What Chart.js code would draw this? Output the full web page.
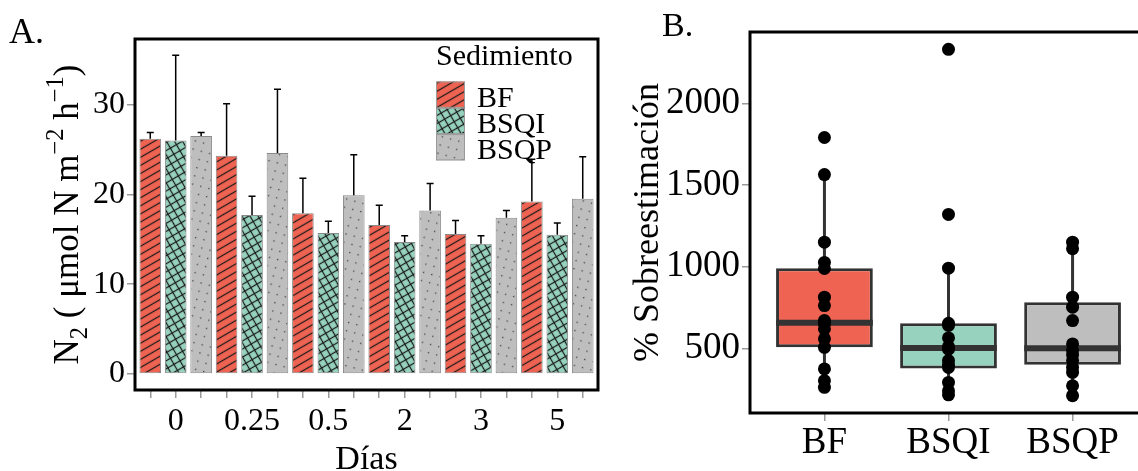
<!DOCTYPE html>
<html>
<head>
<meta charset="utf-8">
<script src="https://cdn.jsdelivr.net/npm/chart.js@4.4.1/dist/chart.umd.min.js"></script>
<style>
  html, body { margin: 0; padding: 0; background: #fff; overflow: hidden; }
  #wrap { position: relative; width: 1138px; height: 471px; overflow: hidden; background: #fff; }
  #chartA { position: absolute; left: 0; top: 0; }
  #chartB { position: absolute; left: 605px; top: 0; }
</style>
</head>
<body>
<div id="wrap">
  <canvas id="chartA" width="605" height="471"></canvas>
  <canvas id="chartB" width="560" height="471"></canvas>
</div>
<script>
// Panel A: N2 flux per day and sediment (mean and upper sd)
const dias = ["0", "0.25", "0.5", "2", "3", "5"];
const sedimentos = ["BF", "BSQI", "BSQP"];
const n2BF = [26.2, 24.3, 17.9, 16.6, 15.6, 19.2];
const n2BSQI = [26.0, 17.7, 15.7, 14.7, 14.5, 15.5];
const n2BSQP = [26.5, 24.6, 19.9, 18.2, 17.4, 19.5];
const sdBF = [0.7, 5.8, 3.9, 2.2, 1.5, 4.7];
const sdBSQI = [9.5, 2.1, 1.3, 0.7, 0.9, 1.3];
const sdBSQP = [0.4, 7.1, 4.5, 3.0, 0.8, 4.7];
const yTicksA = [0, 10, 20, 30];

// Panel B: % overestimation boxplots
const boxCats = ["BF", "BSQI", "BSQP"];
const boxQ1 = [506, 377, 400];
const boxMedian = [656, 502, 500];
const boxQ3 = [991, 653, 782];
const whiskerLo = [261, 210, 210];
const whiskerHi = [1564, 991, 1150];
const ptsBF = [1791, 1564, 1150, 1026, 989, 813, 762, 670, 650, 619, 558, 506, 374, 302, 261];
const ptsBSQI = [2331, 1320, 991, 653, 640, 564, 510, 495, 425, 400, 383, 291, 240, 215];
const ptsBSQP = [1150, 1110, 813, 752, 670, 527, 486, 460, 425, 383, 353, 271, 210];
const yTicksB = [500, 1000, 1500, 2000];

const SERIF = "'Liberation Serif', 'Times New Roman', serif";
const FILLS = ["#EE6352", "#96D2BE", "#BEBEBE"];
const TICK_GREY = "#9a9a9a";

/** Pattern tiles: stripes for BF, crosshatch for BSQI, dots for BSQP. */
function makePattern(ctx, kind, bg) {
    const s = kind === "dots" ? 12 : 7;
    const t = document.createElement("canvas");
    t.width = s;
    t.height = s;
    const g = t.getContext("2d");
    g.fillStyle = bg;
    g.fillRect(0, 0, s, s);
    g.fillStyle = "#1a1a1a";
    if (kind === "stripe" || kind === "cross") g.fillRect(0, s / 2 - 0.6, s, 1.2);
    if (kind === "cross") g.fillRect(s / 2 - 0.6, 0, 1.2, s);
    if (kind === "dots") {
        g.fillStyle = "#444";
        g.fillRect(2, 3, 1.3, 1.3);
        g.fillRect(8, 9, 1.3, 1.3);
    }
    const p = ctx.createPattern(t, "repeat");
    p.setTransform(new DOMMatrix().rotate(-30));
    return p;
}

/** Draws a rotated title with sub/superscript pieces. */
function drawRichVertical(ctx, cx, cy, parts, size) {
    ctx.save();
    ctx.translate(cx, cy);
    ctx.rotate(-Math.PI / 2);
    ctx.fillStyle = "#000";
    ctx.textBaseline = "alphabetic";
    ctx.textAlign = "left";
    let total = 0;
    parts.forEach((p) => {
        ctx.font = `${size * (p.s || 1)}px ${SERIF}`;
        p.w = ctx.measureText(p.t).width;
        total += p.w;
    });
    let x = -total / 2;
    parts.forEach((p) => {
        ctx.font = `${size * (p.s || 1)}px ${SERIF}`;
        ctx.fillText(p.t, x, (p.dy || 0) * size);
        x += p.w;
    });
    ctx.restore();
}

const frameA = {
    id: "frameA",
    afterDraw(chart) {
        const { ctx, chartArea: a } = chart;
        ctx.save();
        ctx.strokeStyle = "#000";
        ctx.lineWidth = 3;
        ctx.strokeRect(a.left, a.top, a.right - a.left, a.bottom - a.top);
        ctx.restore();
    }
};

// error bars from the mean up to mean + sd
const errorBars = {
    id: "errorBars",
    afterDatasetsDraw(chart) {
        const { ctx } = chart;
        const y = chart.scales.y;
        ctx.save();
        ctx.strokeStyle = "#000";
        ctx.lineWidth = 1.5;
        chart.data.datasets.forEach((ds, k) => {
            const meta = chart.getDatasetMeta(k);
            meta.data.forEach((el, g) => {
                const top = y.getPixelForValue(ds.data[g].y + ds.sd[g]);
                ctx.beginPath();
                ctx.moveTo(el.x, el.y);
                ctx.lineTo(el.x, top);
                ctx.moveTo(el.x - 3.5, top);
                ctx.lineTo(el.x + 3.5, top);
                ctx.stroke();
            });
        });
        ctx.restore();
    }
};

const legendA = {
    id: "legendA",
    afterDraw(chart) {
        const { ctx } = chart;
        ctx.save();
        ctx.fillStyle = "#000";
        ctx.textBaseline = "alphabetic";
        ctx.font = `30px ${SERIF}`;
        ctx.fillText("Sedimiento", 436, 65);
        const kx = 436, kw = 29, kh = 26.3, ky = 81.5;
        chart.data.datasets.forEach((ds, k) => {
            const top = ky + k * kh;
            ctx.fillStyle = ds.backgroundColor;
            ctx.fillRect(kx, top, kw, kh);
            ctx.strokeStyle = "#9a9a9a";
            ctx.lineWidth = 1;
            ctx.strokeRect(kx + 0.5, top + 0.5, kw - 1, kh - 1);
            ctx.fillStyle = "#000";
            ctx.font = `30px ${SERIF}`;
            ctx.fillText(ds.label, 477, top + kh - 1);
        });
        ctx.restore();
    }
};

const titlesA = {
    id: "titlesA",
    afterDraw(chart) {
        const { ctx, chartArea: a } = chart;
        ctx.save();
        ctx.fillStyle = "#000";
        ctx.font = `36px ${SERIF}`;
        ctx.textBaseline = "alphabetic";
        ctx.fillText("A.", 9, 43);
        ctx.textAlign = "center";
        ctx.font = `34px ${SERIF}`;
        ctx.fillText("Días", (a.left + a.right) / 2, 469);
        ctx.restore();
        drawRichVertical(ctx, 78, (a.top + a.bottom) / 2, [
            { t: "N" },
            { t: "2", s: 0.7, dy: 0.25 },
            { t: " ( \u03bcmol N m" },
            { t: "\u22122", s: 0.7, dy: -0.42 },
            { t: " h" },
            { t: "\u22121", s: 0.7, dy: -0.42 },
            { t: ")" }
        ], 35);
    }
};

const ctxA = document.getElementById("chartA").getContext("2d");
const patternsA = [
    makePattern(ctxA, "stripe", FILLS[0]),
    makePattern(ctxA, "cross", FILLS[1]),
    makePattern(ctxA, "dots", FILLS[2])
];
const meansA = [n2BF, n2BSQI, n2BSQP];
const sdsA = [sdBF, sdBSQI, sdBSQP];

new Chart(ctxA, {
    type: "bar",
    data: {
        datasets: sedimentos.map((name, k) => ({
            label: name,
            data: dias.map((d, g) => ({ x: g * sedimentos.length + k, y: meansA[k][g] })),
            sd: sdsA[k],
            backgroundColor: patternsA[k],
            borderColor: "#8a8a8a",
            borderWidth: 1,
            borderSkipped: false,
            grouped: false,
            barPercentage: 0.85,
            categoryPercentage: 1
        }))
    },
    options: {
        responsive: false,
        animation: false,
        layout: { padding: { left: 0, top: 39, right: 7, bottom: 0 } },
        plugins: { legend: { display: false }, tooltip: { enabled: false } },
        scales: {
            x: {
                type: "linear",
                offset: false,
                min: -0.6,
                max: dias.length * sedimentos.length - 0.4,
                afterBuildTicks: (s) => {
                    s.ticks = Array.from({ length: dias.length * sedimentos.length }, (_, i) => ({ value: i }));
                },
                afterFit: (s) => { s.height = 81; },
                ticks: {
                    autoSkip: false,
                    maxRotation: 0,
                    color: "#000",
                    padding: 4,
                    font: { family: SERIF, size: 32 },
                    callback: (v) => (v % 3 === 1 ? dias[(v - 1) / 3] : "")
                },
                grid: { offset: false, drawOnChartArea: false, tickLength: 8, color: TICK_GREY, lineWidth: 1.5 },
                border: { display: false }
            },
            y: {
                min: -1.78,
                max: 37.3,
                afterBuildTicks: (s) => { s.ticks = yTicksA.map((v) => ({ value: v })); },
                afterFit: (s) => { s.width = 135; },
                ticks: { color: "#000", padding: 2, font: { family: SERIF, size: 32 }, callback: (v) => String(v) },
                grid: { drawOnChartArea: false, tickLength: 8, color: TICK_GREY, lineWidth: 1.5 },
                border: { display: false }
            }
        }
    },
    plugins: [errorBars, frameA, legendA, titlesA]
});

// Panel B
const frameB = {
    id: "frameB",
    afterDraw(chart) {
        const { ctx, chartArea: a } = chart;
        ctx.save();
        ctx.strokeStyle = "#000";
        ctx.lineWidth = 3;
        ctx.beginPath();
        ctx.moveTo(a.right + 20, a.top);
        ctx.lineTo(a.left, a.top);
        ctx.lineTo(a.left, a.bottom);
        ctx.lineTo(a.right + 20, a.bottom);
        ctx.stroke();
        ctx.restore();
    }
};

const whiskers = {
    id: "whiskers",
    beforeDatasetsDraw(chart) {
        const { ctx, scales } = chart;
        ctx.save();
        ctx.strokeStyle = "#333";
        ctx.lineWidth = 3;
        boxCats.forEach((c, i) => {
            const x = scales.x.getPixelForValue(i);
            ctx.beginPath();
            ctx.moveTo(x, scales.y.getPixelForValue(whiskerLo[i]));
            ctx.lineTo(x, scales.y.getPixelForValue(boxQ1[i]));
            ctx.moveTo(x, scales.y.getPixelForValue(boxQ3[i]));
            ctx.lineTo(x, scales.y.getPixelForValue(whiskerHi[i]));
            ctx.stroke();
        });
        ctx.restore();
    },
    afterDatasetDraw(chart, args) {
        if (args.meta.type !== "bar") return;
        const { ctx, scales } = chart;
        ctx.save();
        ctx.strokeStyle = "#333";
        ctx.lineWidth = 6;
        args.meta.data.forEach((el, i) => {
            const y = scales.y.getPixelForValue(boxMedian[i]);
            ctx.beginPath();
            ctx.moveTo(el.x - el.width / 2, y);
            ctx.lineTo(el.x + el.width / 2, y);
            ctx.stroke();
        });
        ctx.restore();
    }
};

const titlesB = {
    id: "titlesB",
    afterDraw(chart) {
        const { ctx, chartArea: a } = chart;
        ctx.save();
        ctx.fillStyle = "#000";
        ctx.font = `34px ${SERIF}`;
        ctx.textBaseline = "alphabetic";
        ctx.fillText("B.", 57, 36);
        ctx.restore();
        drawRichVertical(ctx, 53, (a.top + a.bottom) / 2, [{ t: "% Sobreestimación" }], 36);
    }
};

const ptsB = [ptsBF, ptsBSQI, ptsBSQP];

new Chart(document.getElementById("chartB").getContext("2d"), {
    type: "bar",
    data: {
        datasets: [
            ...ptsB.map((arr, i) => ({
                type: "scatter",
                label: boxCats[i],
                data: arr.map((v) => ({ x: i, y: v })),
                backgroundColor: "#000",
                borderWidth: 0,
                pointRadius: 6.5,
                order: 0
            })),
            {
                type: "bar",
                label: "box",
                data: boxCats.map((c, i) => ({ x: i, y: [boxQ1[i], boxQ3[i]] })),
                backgroundColor: FILLS,
                borderColor: "#333",
                borderWidth: 3,
                borderSkipped: false,
                grouped: false,
                barPercentage: 0.78,
                categoryPercentage: 1,
                order: 1
            }
        ]
    },
    options: {
        responsive: false,
        animation: false,
        layout: { padding: { left: 0, top: 32, right: 18, bottom: 0 } },
        plugins: { legend: { display: false }, tooltip: { enabled: false } },
        scales: {
            x: {
                type: "linear",
                offset: false,
                min: -0.6,
                max: boxCats.length - 0.4,
                afterBuildTicks: (s) => { s.ticks = boxCats.map((c, i) => ({ value: i })); },
                afterFit: (s) => { s.height = 58; },
                ticks: {
                    autoSkip: false,
                    maxRotation: 0,
                    color: "#000",
                    padding: 0,
                    font: { family: SERIF, size: 37 },
                    callback: (v) => boxCats[v]
                },
                grid: { offset: false, drawOnChartArea: false, tickLength: 8, color: TICK_GREY, lineWidth: 1.5 },
                border: { display: false }
            },
            y: {
                min: 104,
                max: 2437,
                afterBuildTicks: (s) => { s.ticks = yTicksB.map((v) => ({ value: v })); },
                afterFit: (s) => { s.width = 145; },
                ticks: { color: "#000", padding: 2, font: { family: SERIF, size: 37 }, callback: (v) => String(v) },
                grid: { drawOnChartArea: false, tickLength: 8, color: TICK_GREY, lineWidth: 1.5 },
                border: { display: false }
            }
        }
    },
    plugins: [whiskers, frameB, titlesB]
});
</script>
</body>
</html>
